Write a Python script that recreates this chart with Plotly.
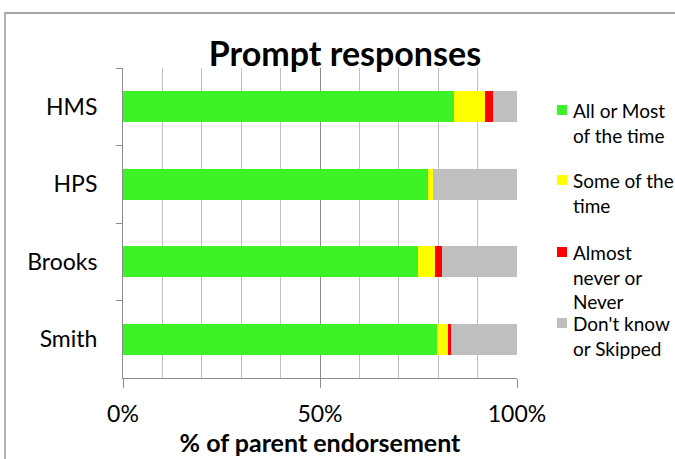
import plotly.graph_objects as go

categories = ["HMS", "HPS", "Brooks", "Smith"]
all_most = [84.0, 77.3, 74.8, 79.6]
some_time = [8.0, 1.5, 4.4, 3.1]
almost_never = [2.0, 0.0, 1.7, 0.5]
dont_know = [6.0, 21.2, 19.1, 16.8]

series_names = [
    "All or Most<br>of the time",
    "Some of the<br>time",
    "Almost<br>never or<br>Never",
    "Don't know<br>or Skipped",
]
series_values = [all_most, some_time, almost_never, dont_know]
series_colors = ["#3DF227", "#FFFF00", "#FF0000", "#BFBFBF"]

FONT = "Lato"

# plot area in pixels (for converting legend placement to paper coords)
L, R, T, B = 123, 517, 68, 378


def px_x(p):
    return (p - L) / (R - L)


def px_y(p):
    return (B - p) / (B - T)


fig = go.Figure()
for name, vals, col in zip(series_names, series_values, series_colors):
    fig.add_trace(go.Bar(
        y=categories, x=vals, name=name, orientation="h",
        marker=dict(color=col, line=dict(width=0)),
        showlegend=False,
    ))

fig.update_layout(
    width=675, height=459,
    barmode="stack", bargap=0.6,
    paper_bgcolor="white", plot_bgcolor="white",
    margin=dict(l=L, r=675 - R, t=T, b=459 - B, autoexpand=False),
    font=dict(family=FONT, size=23, color="black"),
    title=dict(text="<b>Prompt responses</b>", x=0.511, xref="container", xanchor="center",
               y=1 - 54 / 459, yref="container", yanchor="middle",
               font=dict(family=FONT, size=34, color="black")),
    showlegend=False,
)

fig.update_xaxes(
    range=[0, 100], dtick=50, ticksuffix="%", automargin=False,
    showgrid=True, gridcolor="#8C8C8C", gridwidth=1,
    minor=dict(dtick=10, showgrid=True, gridcolor="#C0C0C0", gridwidth=1),
    showline=True, linecolor="#8C8C8C", linewidth=1,
    ticks="outside", ticklen=9, tickcolor="#8C8C8C",
    ticklabelstandoff=6,
    tickfont=dict(family=FONT, size=23),
    title=dict(text="<b>% of parent endorsement</b>", font=dict(family=FONT, size=25), standoff=8),
    zeroline=False,
)
fig.update_yaxes(
    categoryorder="array", categoryarray=categories, autorange="reversed", automargin=False,
    showgrid=False, showline=True, linecolor="#8C8C8C", linewidth=1,
    ticks="outside", tickson="boundaries", ticklen=6, tickcolor="#8C8C8C",
    ticklabelstandoff=20,
    tickfont=dict(family=FONT, size=23),
)

# legend drawn manually (Excel-style: swatch beside the first text line)
legend_first_line = [110, 180, 252, 323]
for name, col, cy in zip(series_names, series_colors, legend_first_line):
    fig.add_shape(type="rect", xref="paper", yref="paper",
                  x0=px_x(557), x1=px_x(567), y0=px_y(cy + 5), y1=px_y(cy - 5),
                  line=dict(width=0), fillcolor=col)
    fig.add_annotation(text=name, xref="paper", yref="paper",
                       x=px_x(571), y=px_y(cy - 13.5), xanchor="left", yanchor="top",
                       align="left", showarrow=False,
                       font=dict(family=FONT, size=19, color="black"))

fig.add_shape(type="rect", xref="paper", yref="paper",
              x0=px_x(5), x1=2.0, y0=-1.0, y1=px_y(13),
              line=dict(color="#8C8C8C", width=1.3), fillcolor="rgba(0,0,0,0)", layer="below")

fig.write_html("out.html", post_script="document.body.style.margin='0';",
               config={"displayModeBar": False})
